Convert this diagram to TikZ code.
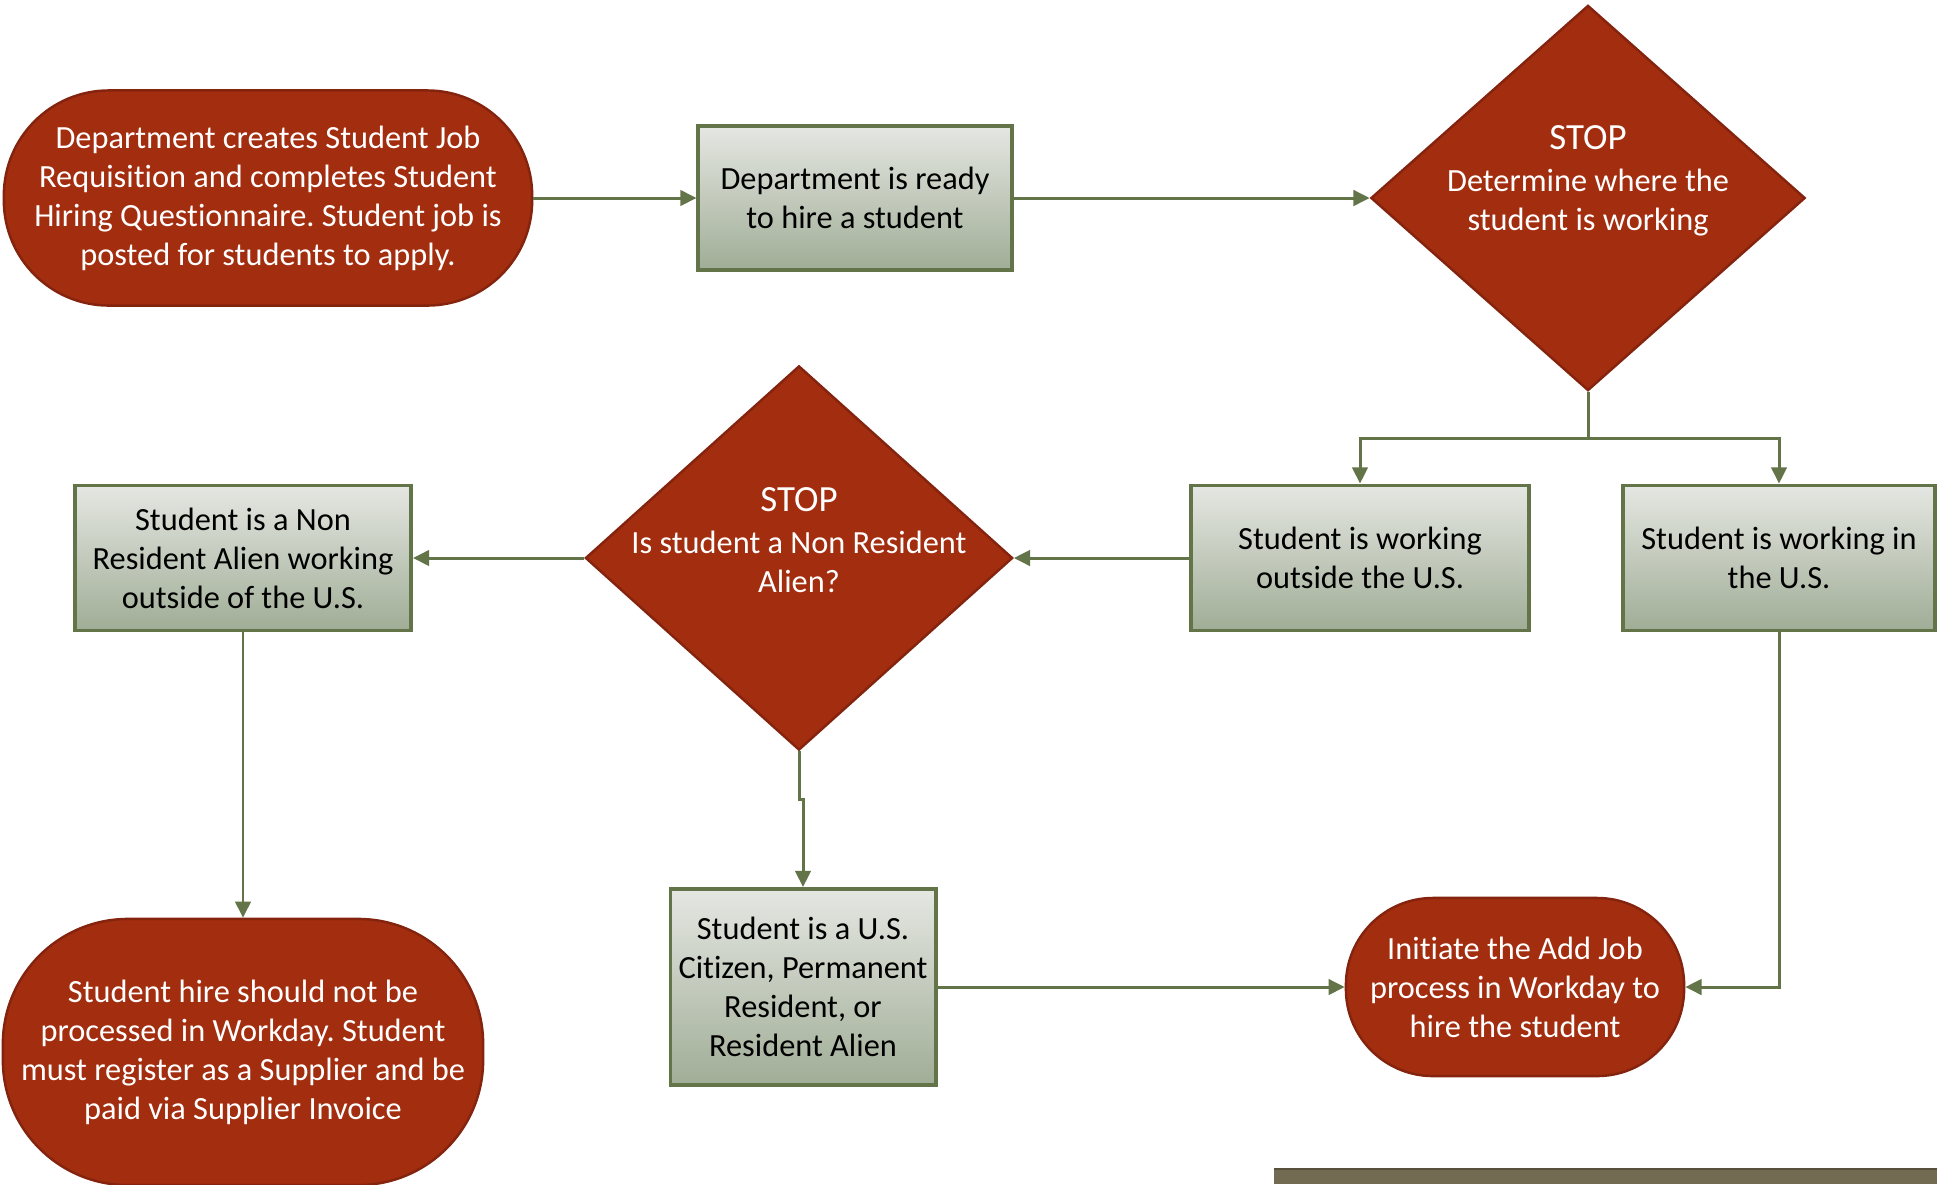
\documentclass[tikz,border=0pt]{standalone}
\usepackage{fontspec}
\setmainfont{Carlito}[Ligatures=NoCommon]
\frenchspacing
\usetikzlibrary{arrows.meta,positioning,shapes.geometric}
\definecolor{rust}{RGB}{163,45,15}
\definecolor{rustedge}{RGB}{132,36,14}
\definecolor{sage}{RGB}{98,116,72}
\definecolor{sagetop}{RGB}{229,231,226}
\definecolor{sagebot}{RGB}{160,173,150}
\definecolor{taupe}{RGB}{115,106,82}

\begin{document}
\begin{tikzpicture}[x=0.01cm,y=-0.01cm,
        every node/.style={font=\fontsize{9.2}{11.1}\selectfont,inner sep=2pt},
        term/.style={rectangle,fill=rust,draw=rustedge,line width=0.7pt,text=white,align=center},
        procbox/.style={rectangle,draw=sage,line width=1.1pt,top color=sagetop,bottom color=sagebot,align=center},
        decision/.style={diamond,fill=rust,draw=rustedge,line width=0.7pt,inner sep=0pt},
        dtext/.style={text=white,align=center},
        flow/.style={draw=sage,line width=0.85pt,-{Triangle[length=4.6pt,width=4.4pt]}}]
        \useasboundingbox (0,0) rectangle (1937,1184);
        \clip (0,0) rectangle (1937,1184);
        \node[term,minimum width=5.28cm,minimum height=2.15cm,rounded corners=1.05cm] (start) at (268,198)
          {Department creates Student Job\\Requisition and completes Student\\Hiring Questionnaire. Student job is\\posted for students to apply.};
        \node[procbox,minimum width=3.13cm,minimum height=1.44cm] (ready) at (855,198) {Department is ready\\to hire a student};
        \node[decision,minimum width=4.34cm,minimum height=3.85cm] (d1) at (1588,198) {};
        \node[dtext] (d1txt) at ([yshift=0.17cm]d1.center)
          {{\fontsize{10.5}{12.6}\selectfont STOP}\\[1pt]Determine where the\\student is working};
        \node[procbox,minimum width=3.37cm,minimum height=1.45cm] (outside) at (1360,558) {Student is working\\outside the U.S.};
        \node[procbox,minimum width=3.12cm,minimum height=1.45cm] (inus) at (1779,558) {Student is working in\\the U.S.};
        \node[decision,minimum width=4.27cm,minimum height=3.84cm] (d2) at (799,558) {};
        \node[dtext] (d2txt) at ([yshift=0.18cm]d2.center)
          {{\fontsize{10.5}{12.6}\selectfont STOP}\\[1pt]Is student a Non Resident\\Alien?};
        \node[procbox,minimum width=3.36cm,minimum height=1.45cm] (nra) at (243,558) {Student is a Non\\Resident Alien working\\outside of the U.S.};
        \node[term,minimum width=4.8cm,minimum height=2.66cm,rounded corners=1.25cm] (supplier) at (243,1052)
          {Student hire should not be\\processed in Workday. Student\\must register as a Supplier and be\\paid via Supplier Invoice};
        \node[procbox,minimum width=2.65cm,minimum height=1.96cm] (citizen) at (803,987) {Student is a U.S.\\Citizen, Permanent\\Resident, or\\Resident Alien};
        \node[term,minimum width=3.38cm,minimum height=1.78cm,rounded corners=0.87cm] (initiate) at (1515,987)
          {Initiate the Add Job\\process in Workday to\\hire the student};

        \draw[flow] (start) -- (ready);
        \draw[flow] (ready) -- (d1);
        \draw[flow] (d1.south) -- ++(0,47) -| (outside.north);
        \draw[flow] (d1.south) -- ++(0,47) -| (inus.north);
        \draw[flow] (outside) -- (d2);
        \draw[flow] (d2) -- (nra);
        \draw[flow] (nra) -- (supplier);
        \draw[flow] (d2.south) -- ++(0,48) -| (citizen.north);
        \draw[flow] (citizen) -- (initiate);
        \draw[flow] (inus.south) |- (initiate.east);

        \fill[taupe] (1274,1169) rectangle (1937,1184);
        \draw[taupe!75!black,line width=0.8pt] (1274,1169) -- (1937,1169);
      \end{tikzpicture}
\end{document}
